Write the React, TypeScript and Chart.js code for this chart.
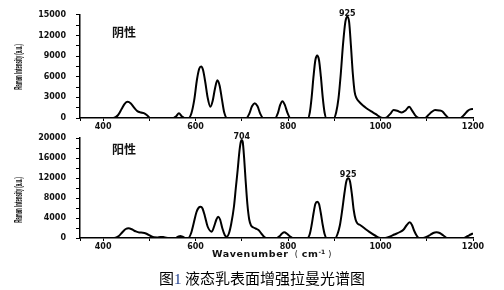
import React, { useEffect, useRef } from "react";
import { Chart, registerables } from "chart.js";

Chart.register(...registerables);

// ---- data ----
const topWavenumbers = [
  350, 422, 432, 440, 447, 453, 460, 467, 474, 482,
  488, 495, 502, 552, 558, 564, 570, 576, 585, 591,
  597, 603, 608, 612, 616, 621, 626, 632, 637, 642,
  647, 652, 657, 662, 668, 710, 716, 722, 728, 734,
  740, 746, 772, 778, 783, 788, 793, 799, 805, 843,
  847, 851, 855, 859, 863, 867, 871, 875, 879, 883,
  899, 904, 909, 914, 919, 924, 928, 932, 936, 940,
  944, 948, 953, 962, 971, 980, 990, 1000, 1010, 1021,
  1028, 1036, 1046, 1054, 1062, 1069, 1076, 1083, 1096, 1103,
  1111, 1118, 1127, 1134, 1141, 1148, 1173, 1180, 1188, 1194,
  1200,
];
const topIntensity = [
  0, 0, 400, 1300, 2100, 2350, 2100, 1500, 1000, 800,
  700, 400, 0, 0, 250, 680, 250, 0, 0, 700,
  2600, 5600, 7200, 7500, 7000, 5200, 3000, 1630, 2500, 4300,
  5480, 4700, 2700, 800, 0, 0, 600, 1700, 2150, 1700,
  600, 0, 0, 700, 1900, 2450, 1900, 700, 0, 0,
  800, 3000, 6000, 8400, 9080, 8400, 6000, 3000, 800, 0,
  0, 800, 2800, 6400, 10800, 14000, 14700, 14000, 10500, 6500,
  3800, 2900, 2400, 1800, 1350, 950, 550, 100, 0, 600,
  1150, 1050, 800, 1100, 1630, 1000, 300, 0, 0, 400,
  900, 1150, 1100, 950, 400, 0, 0, 400, 1000, 1250,
  1300,
];

const bottomWavenumbers = [
  350, 424, 434, 442, 449, 455, 462, 470, 478, 486,
  494, 502, 510, 517, 524, 530, 537, 542, 556, 562,
  567, 572, 579, 584, 590, 596, 602, 607, 611, 615,
  620, 626, 635, 640, 645, 649, 653, 658, 663, 667,
  672, 677, 683, 687, 691, 695, 698, 700, 702, 705,
  708, 712, 716, 720, 725, 730, 736, 743, 748, 753,
  776, 782, 787, 792, 797, 803, 810, 842, 847, 851,
  855, 859, 863, 867, 871, 875, 879, 883, 902, 907,
  912, 917, 922, 926, 930, 934, 938, 942, 946, 950,
  955, 963, 975, 988, 1000, 1010, 1018, 1030, 1042, 1050,
  1056, 1063, 1068, 1073, 1078, 1083, 1092, 1099, 1107, 1114,
  1121, 1128, 1136, 1144, 1180, 1188, 1195, 1200,
];
const bottomIntensity = [
  0, 0, 400, 1200, 1800, 1930, 1750, 1350, 1100, 1070,
  850, 450, 150, 120, 220, 200, 50, 0, 0, 250,
  400, 250, 0, 0, 900, 3000, 5200, 6100, 6270, 5900,
  4400, 2300, 1270, 2300, 3700, 4270, 3700, 1900, 600, 260,
  900, 2800, 6300, 10000, 13600, 17500, 19300, 19600, 19200, 16000,
  11800, 6800, 3700, 2500, 2100, 1900, 1600, 800, 250, 0,
  0, 400, 900, 1130, 900, 400, 0, 0, 800, 2600,
  4900, 6800, 7270, 6800, 4900, 2600, 800, 0, 0, 800,
  2500, 5500, 9000, 11300, 11930, 11300, 8800, 5600, 3700, 2900,
  2650, 2100, 1270, 500, 0, 0, 200, 700, 1200, 1700,
  2500, 3130, 2600, 1400, 500, 0, 0, 200, 600, 1000,
  1130, 1000, 500, 0, 0, 350, 700, 930,
];

const xMin = 350;
const xMax = 1200;
const xTickStep = 100;
const xLabelStep = 200;

const topYMax = 15000;
const topYStep = 1500;
const topYLabelStep = 3000;
const bottomYMax = 20000;
const bottomYStep = 2000;
const bottomYLabelStep = 4000;

const topPeakPositions = [928];
const topPeakTexts = ["925"];
const bottomPeakPositions = [700, 930];
const bottomPeakTexts = ["704", "925"];

const groupNames = ["阴性", "阳性"];
const yAxisTitle = "Raman Intensity (a.u.)";
const xAxisTitle = "Wavenumber";
const captionNumber = "1";
const captionText = "液态乳表面增强拉曼光谱图";

const tickFont = { family: "'DejaVu Sans', sans-serif", size: 8, weight: "bold" as const };

type Props = {
  xs: number[];
  ys: number[];
  yMax: number;
  yStep: number;
  yLabelStep: number;
  peakPositions: number[];
  peakTexts: string[];
  height: number;
  padTop: number;
  xAxisHeight: number;
};

function SpectrumChart(p: Props) {
  const ref = useRef<HTMLCanvasElement | null>(null);
  useEffect(() => {
    if (!ref.current) return;
    const peakPlugin = {
      id: "peakLabels",
      afterDatasetsDraw(chart: any) {
        const ctx = chart.ctx;
        const xs = chart.scales.x;
        const ysc = chart.scales.y;
        ctx.save();
        ctx.fillStyle = "#111";
        ctx.font = "bold 8px 'DejaVu Sans', sans-serif";
        ctx.textAlign = "center";
        ctx.textBaseline = "alphabetic";
        p.peakPositions.forEach((wn, i) => {
          const idx = p.xs.indexOf(wn);
          const v = idx >= 0 ? p.ys[idx] : 0;
          ctx.fillText(p.peakTexts[i], xs.getPixelForValue(wn), ysc.getPixelForValue(v) - 1);
        });
        ctx.restore();
      },
    };
    const chart = new Chart(ref.current, {
      type: "line",
      data: {
        datasets: [
          {
            data: p.xs.map((x, i) => ({ x, y: p.ys[i] })),
            borderColor: "#000",
            borderWidth: 2,
            pointRadius: 0,
            fill: false,
            cubicInterpolationMode: "monotone",
          },
        ],
      },
      options: {
        responsive: false,
        maintainAspectRatio: false,
        animation: false,
        events: [],
        layout: { padding: { top: p.padTop, right: 31, left: 0, bottom: 0 } },
        plugins: { legend: { display: false }, tooltip: { enabled: false } },
        scales: {
          x: {
            type: "linear",
            min: xMin,
            max: xMax,
            afterFit: (s: any) => {
              s.height = p.xAxisHeight;
            },
            border: { display: true, color: "#000", width: 1.5 },
            grid: { drawOnChartArea: false, drawTicks: true, tickLength: 3, color: "#000" },
            ticks: {
              stepSize: xTickStep,
              autoSkip: false,
              maxRotation: 0,
              padding: 1,
              color: "#111",
              font: tickFont,
              callback: (v: any) => (Number(v) % xLabelStep === 0 ? String(v) : ""),
            },
          },
          y: {
            min: 0,
            max: p.yMax,
            afterFit: (s: any) => {
              s.width = 80;
            },
            border: { display: true, color: "#000", width: 1.5 },
            grid: { drawOnChartArea: false, drawTicks: true, tickLength: 4, color: "#000" },
            ticks: {
              stepSize: p.yStep,
              autoSkip: false,
              padding: 10,
              color: "#111",
              font: tickFont,
              callback: (v: any) => (Number(v) % p.yLabelStep === 0 ? String(v) : ""),
            },
          },
        },
      },
      plugins: [peakPlugin],
    } as any);
    return () => chart.destroy();
  }, []);
  return <canvas ref={ref} width={504} height={p.height} style={{ display: "block" }} />;
}

export default function App() {
  const yTitleStyle = (cy: number): React.CSSProperties => ({
    position: "absolute",
    left: 18,
    top: cy,
    transform: "translate(-50%, -50%) rotate(-90deg) scaleX(0.4)",
    font: "bold 11px 'Liberation Sans', Arial, sans-serif",
    lineHeight: "11px",
    whiteSpace: "nowrap",
    color: "#111",
  });
  const groupStyle = (top: number): React.CSSProperties => ({
    position: "absolute",
    left: 112,
    top,
    font: "bold 12px 'Noto Sans CJK SC', sans-serif",
    lineHeight: "14px",
    color: "#111",
  });
  return (
    <div
      style={{
        position: "fixed",
        left: 0,
        top: 0,
        width: 504,
        height: 290,
        background: "#fff",
        overflow: "hidden",
      }}
    >
      <div style={{ position: "absolute", left: 0, top: 0 }}>
        <SpectrumChart
          xs={topWavenumbers}
          ys={topIntensity}
          yMax={topYMax}
          yStep={topYStep}
          yLabelStep={topYLabelStep}
          peakPositions={topPeakPositions}
          peakTexts={topPeakTexts}
          height={135}
          padTop={14}
          xAxisHeight={17}
        />
      </div>
      <div style={{ position: "absolute", left: 0, top: 120 }}>
        <SpectrumChart
          xs={bottomWavenumbers}
          ys={bottomIntensity}
          yMax={bottomYMax}
          yStep={bottomYStep}
          yLabelStep={bottomYLabelStep}
          peakPositions={bottomPeakPositions}
          peakTexts={bottomPeakTexts}
          height={140}
          padTop={18}
          xAxisHeight={22}
        />
      </div>
      <div style={yTitleStyle(67)}>{yAxisTitle}</div>
      <div style={yTitleStyle(200)}>{yAxisTitle}</div>
      <div style={groupStyle(25)}>{groupNames[0]}</div>
      <div style={groupStyle(142)}>{groupNames[1]}</div>
      <div
        style={{
          position: "absolute",
          left: 272,
          top: 253,
          transform: "translate(-50%, -50%)",
          font: "bold 9.5px 'DejaVu Sans', sans-serif",
          letterSpacing: "0.6px",
          whiteSpace: "nowrap",
          color: "#111",
        }}
      >
        {xAxisTitle}
        <span style={{ fontWeight: "normal", fontSize: 8 }}>{"\u00a0\u00a0(\u00a0"}</span>cm
        <sup style={{ fontSize: 6, verticalAlign: "3px", letterSpacing: 0 }}>-1</sup>
        <span style={{ fontWeight: "normal", fontSize: 8 }}>{"\u00a0)"}</span>
      </div>
      <div
        style={{
          position: "absolute",
          left: 262,
          top: 277,
          transform: "translate(-50%, -50%)",
          font: "15px 'Noto Sans CJK SC', sans-serif",
          whiteSpace: "nowrap",
          color: "#000",
        }}
      >
        图<span style={{ fontFamily: "'Liberation Serif', serif", color: "#1a3a8a" }}>{captionNumber}</span>
        {"\u00a0"}
        {captionText}
      </div>
    </div>
  );
}
